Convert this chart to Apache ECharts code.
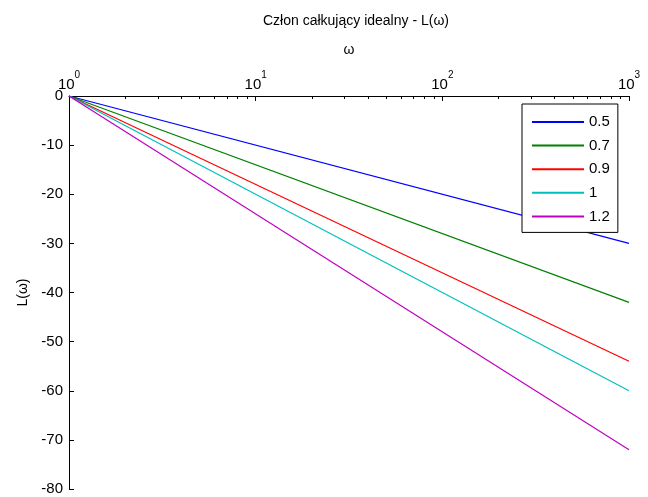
<!DOCTYPE html>
<html>
<head>
<meta charset="utf-8">
<script src="https://cdn.jsdelivr.net/npm/echarts@6/dist/echarts.min.js"></script>
<style>
  html, body { margin: 0; padding: 0; background: #fff; }
  #chart { width: 648px; height: 497px; }
</style>
</head>
<body>
<div id="chart"></div>
<script>
// Frequency endpoints (log axis) and magnitude L(ω) in dB at those endpoints
const omega = [1, 1000];
const seriesNames = ['0.5', '0.7', '0.9', '1', '1.2'];
const L_05 = [0, -30];
const L_07 = [0, -42];
const L_09 = [0, -54];
const L_10 = [0, -60];
const L_12 = [0, -72];
const seriesColors = ['#0000ff', '#008000', '#ff0000', '#00bfbf', '#bf00bf'];

// Decade tick labels (exponents of 10) and minor tick positions
const xTickExponents = ['0', '1', '2', '3'];
const xMinorTicks = [2, 3, 4, 5, 6, 7, 8, 9, 20, 30, 40, 50, 60, 70, 80, 90,
                     200, 300, 400, 500, 600, 700, 800, 900];
const yTicks = { min: -80, max: 0, step: 10 };

const FONT = 'Liberation Sans, Arial, sans-serif';
const values = [L_05, L_07, L_09, L_10, L_12];

const series = values.map((vals, i) => ({
  name: seriesNames[i],
  type: 'line',
  xAxisIndex: 0,
  data: omega.map((w, j) => [w, vals[j]]),
  symbol: 'none',
  lineStyle: { width: 1.2, color: seriesColors[i] },
  itemStyle: { color: seriesColors[i] },
  animation: false
}));

const chart = echarts.init(document.getElementById('chart'), null, { renderer: 'canvas' });
chart.setOption({
  backgroundColor: '#ffffff',
  animation: false,
  title: {
    text: 'Człon całkujący idealny - L(ω)',
    left: 351,
    textAlign: 'center',
    top: 9,
    textStyle: { fontFamily: FONT, fontSize: 14, fontWeight: 'normal', color: '#000' }
  },
  legend: {
    data: seriesNames,
    orient: 'vertical',
    left: 522,
    top: 104,
    width: 98,
    padding: [10, 8, 8, 10],
    icon: 'rect',
    itemWidth: 52,
    itemHeight: 2,
    itemGap: 7.6,
    backgroundColor: '#ffffff',
    borderColor: '#000000',
    borderWidth: 1,
    textStyle: { fontFamily: FONT, fontSize: 15, lineHeight: 16, color: '#000' }
  },
  grid: { left: 69, right: 19, top: 96, bottom: 8 },
  xAxis: [
    {
      type: 'log',
      logBase: 10,
      min: 1,
      max: 1000,
      interval: 1,
      position: 'top',
      name: 'ω',
      nameLocation: 'middle',
      nameGap: 39,
      nameTextStyle: { fontFamily: FONT, fontSize: 14, color: '#000' },
      axisLine: { show: true, onZero: false, lineStyle: { color: '#000', width: 1 } },
      axisTick: { show: true, inside: true, length: 5, lineStyle: { color: '#000' } },
      axisLabel: {
        margin: 4,
        formatter: (v, idx) => '{b|10}{s|' + xTickExponents[idx] + '}',
        rich: {
          b: { fontFamily: FONT, fontSize: 15, color: '#000', lineHeight: 22, verticalAlign: 'bottom' },
          s: { fontFamily: FONT, fontSize: 10, color: '#000', verticalAlign: 'top' }
        }
      },
      splitLine: { show: false }
    },
    {
      // minor ticks of the decade axis, carried at y = 0 (top edge)
      type: 'value',
      min: 0,
      max: 3,
      position: 'bottom',
      axisLine: { show: false, onZero: true },
      axisTick: {
        show: true,
        inside: false,
        length: 3,
        customValues: xMinorTicks.map(v => Math.log10(v)),
        lineStyle: { color: '#000' }
      },
      axisLabel: { show: false },
      splitLine: { show: false }
    }
  ],
  yAxis: {
    type: 'value',
    min: yTicks.min,
    max: yTicks.max,
    interval: yTicks.step,
    name: 'L(ω)',
    nameLocation: 'middle',
    nameGap: 38,
    nameTextStyle: { fontFamily: FONT, fontSize: 14, color: '#000' },
    axisLine: { show: true, onZero: false, lineStyle: { color: '#000', width: 1 } },
    axisTick: { show: true, inside: true, length: 5, lineStyle: { color: '#000' } },
    axisLabel: { margin: 6, fontFamily: FONT, fontSize: 15, color: '#000' },
    splitLine: { show: false }
  },
  series: series
});
</script>
</body>
</html>
